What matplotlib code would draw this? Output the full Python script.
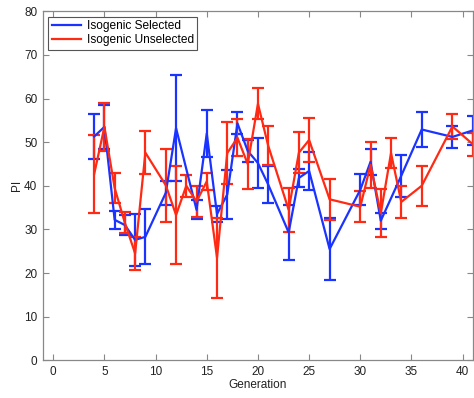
import matplotlib
matplotlib.use("Agg")
import matplotlib.pyplot as plt

# Isogenic Selected
gen_sel = [4, 5, 6, 7, 8, 9, 11, 12, 14, 15, 16, 17, 18, 19, 20, 21,
           23, 24, 25, 27, 30, 31, 32, 34, 36, 39, 41]
pi_sel = [51.3, 53.5, 32.2, 31.0, 27.6, 28.3, 38.4, 53.2, 34.5, 52.0, 33.5, 38.0,
          54.3, 48.0, 45.2, 40.3, 29.3, 41.8, 43.4, 25.5, 39.1, 45.5, 32.0, 42.3,
          52.9, 51.2, 52.7]
err_sel = [5.2, 5.0, 2.0, 2.3, 6.0, 6.3, 2.8, 12.2, 2.2, 5.4, 1.8, 5.7,
           2.5, 2.6, 5.8, 4.2, 6.2, 2.0, 4.3, 7.2, 3.6, 3.0, 1.8, 4.8,
           4.0, 2.5, 3.4]

# Isogenic Unselected
gen_uns = [4, 5, 6, 7, 8, 9, 11, 12, 13, 14, 15, 16, 17, 18, 19, 20, 21,
           23, 24, 25, 27, 30, 31, 32, 33, 34, 36, 39, 41]
pi_uns = [42.7, 53.5, 39.5, 31.5, 24.5, 47.6, 40.1, 33.3, 40.0, 36.4, 41.0, 23.5,
          47.5, 51.0, 45.0, 58.8, 49.2, 34.5, 47.6, 50.5, 36.9, 35.2, 44.8, 33.7,
          47.5, 36.3, 40.0, 53.6, 49.5]
err_uns = [9.0, 5.5, 3.5, 2.4, 3.8, 4.9, 8.3, 11.3, 2.5, 3.5, 2.0, 9.2,
           7.2, 4.2, 5.7, 3.6, 4.4, 5.0, 4.7, 5.0, 4.7, 3.6, 5.3, 5.5,
           3.4, 3.6, 4.6, 2.8, 2.7]

plt.rcParams['font.family'] = ['Liberation Sans', 'DejaVu Sans']
plt.rcParams['font.size'] = 8.5

fig = plt.figure(figsize=(4.74, 3.98), dpi=100)
ax = fig.add_axes([0.0907, 0.0947, 0.907, 0.877])

blue = '#1a33ff'
red = '#ff2a14'
eb1 = ax.errorbar(gen_sel, pi_sel, yerr=err_sel, color=blue, lw=1.6,
                  elinewidth=1.6, capsize=4, capthick=1.6)
eb2 = ax.errorbar(gen_uns, pi_uns, yerr=err_uns, color=red, lw=1.6,
                  elinewidth=1.6, capsize=4, capthick=1.6)

ax.set_xlim(-1, 41)
ax.set_ylim(0, 80)
ax.set_xticks(range(0, 41, 5))
ax.set_yticks(range(0, 81, 10))
ax.tick_params(direction='in', top=True, right=True, length=4,
               color='#888888', labelcolor='#222222', width=0.8, pad=4)
for s in ax.spines.values():
    s.set_color('#888888')
    s.set_linewidth(0.9)

ax.set_xlabel('Generation', color='#222222', labelpad=1)
ax.set_ylabel('PI', color='#222222', labelpad=1)

leg = ax.legend([eb1[0], eb2[0]], ['Isogenic Selected', 'Isogenic Unselected'],
                loc='upper left', fancybox=False, edgecolor='#555555',
                framealpha=1, borderaxespad=0.45, handlelength=2.4,
                borderpad=0.3, labelspacing=0.15, handletextpad=0.5,
                fontsize=8.6)
leg.get_frame().set_linewidth(0.8)

fig.savefig('out.png', dpi=100)
